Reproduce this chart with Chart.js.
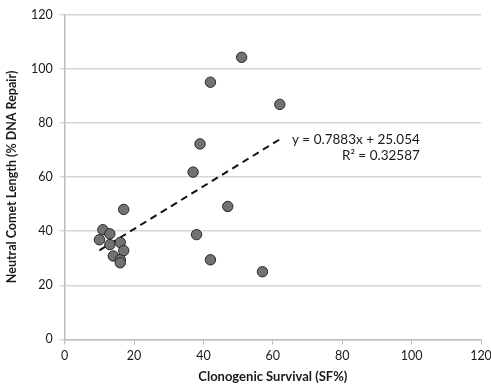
<!DOCTYPE html>
<html>
<head>
<meta charset="utf-8">
<script src="https://cdn.jsdelivr.net/npm/chart.js@4.4.1/dist/chart.umd.min.js"></script>
<style>
html,body{margin:0;padding:0;background:#fff;}
#wrap{width:491px;height:387px;position:relative;}
</style>
</head>
<body>
<div id="wrap"><canvas id="c" width="491" height="387"></canvas></div>
<script>
const survivalX = [10, 11, 13, 13, 16, 14, 16, 16, 17, 17, 37, 39, 38, 42, 42, 47, 51, 57, 62];
const cometY    = [36.8, 40.5, 39, 35, 35.8, 30.8, 29.5, 28.3, 32.8, 48, 61.8, 72.2, 38.7, 95, 29.4, 49.1, 104.2, 25, 86.8];
const trendX = [10, 62];
const trendY = [32.9, 73.9];
const xTicks = [0, 20, 40, 60, 80, 100, 120];
const yTicks = [0, 20, 40, 60, 80, 100, 120];
const equationText = ["y = 0.7883x + 25.054", "R\u00b2 = 0.32587"];
const xTitle = "Clonogenic Survival (SF%)";
const yTitle = "Neutral Comet Length (% DNA Repair)";

const FONT = "Lato, 'Open Sans', sans-serif";

const eqPlugin = {
  id: 'eq',
  afterDatasetsDraw(chart) {
    const {ctx, scales} = chart;
    const x = scales.x.getPixelForValue(65.5);
    const y1 = scales.y.getPixelForValue(73.6);
    ctx.save();
    ctx.fillStyle = '#1a1a1a';
    ctx.font = "13.5px " + FONT;
    ctx.textBaseline = 'middle';
    ctx.textAlign = 'left';
    ctx.fillText(equationText[0], x, y1);
    const w = ctx.measureText(equationText[0]).width;
    ctx.textAlign = 'right';
    ctx.fillText(equationText[1], x + w, y1 + 16);
    ctx.restore();
  }
};

new Chart(document.getElementById('c'), {
  type: 'scatter',
  data: {
    datasets: [
      {
        label: 'data',
        data: survivalX.map((v, i) => ({x: v, y: cometY[i]})),
        backgroundColor: '#727272',
        borderColor: '#262626',
        borderWidth: 1,
        pointRadius: 5.2,
        order: 1
      },
      {
        label: 'trend',
        type: 'line',
        data: trendX.map((v, i) => ({x: v, y: trendY[i]})),
        borderColor: '#111',
        borderWidth: 2,
        borderDash: [7, 5],
        pointRadius: 0,
        fill: false,
        order: 2
      }
    ]
  },
  options: {
    responsive: false,
    animation: false,
    layout: {padding: {top: 6, right: 10, left: 4, bottom: 2}},
    plugins: {legend: {display: false}, tooltip: {enabled: false}},
    scales: {
      x: {
        type: 'linear', min: 0, max: 120,
        afterBuildTicks: s => { s.ticks = xTicks.map(v => ({value: v})); },
        afterFit: s => { s.paddingRight = 0; },
        ticks: {color: '#1a1a1a', font: {family: FONT, size: 12.5}, padding: 4},
        grid: {display: true, drawOnChartArea: false, drawTicks: true, tickLength: 5, color: '#bdbdbd', lineWidth: 1},
        border: {display: true, color: '#bdbdbd', width: 1.5},
        title: {display: true, text: xTitle, color: '#1a1a1a', font: {family: FONT, size: 13, weight: 'bold'}, padding: {top: 2, bottom: 0}}
      },
      y: {
        type: 'linear', min: 0, max: 120,
        afterBuildTicks: s => { s.ticks = yTicks.map(v => ({value: v})); },
        ticks: {color: '#1a1a1a', font: {family: FONT, size: 12.5}, padding: 7},
        grid: {display: true, drawTicks: true, tickLength: 5, color: '#d6d6d6', lineWidth: 1.5},
        border: {display: true, color: '#bdbdbd', width: 1.5},
        title: {display: true, text: yTitle, color: '#1a1a1a', font: {family: FONT, size: 12.5, weight: 'bold'}, padding: {top: 0, bottom: 5}}
      }
    }
  },
  plugins: [eqPlugin]
});
</script>
</body>
</html>
